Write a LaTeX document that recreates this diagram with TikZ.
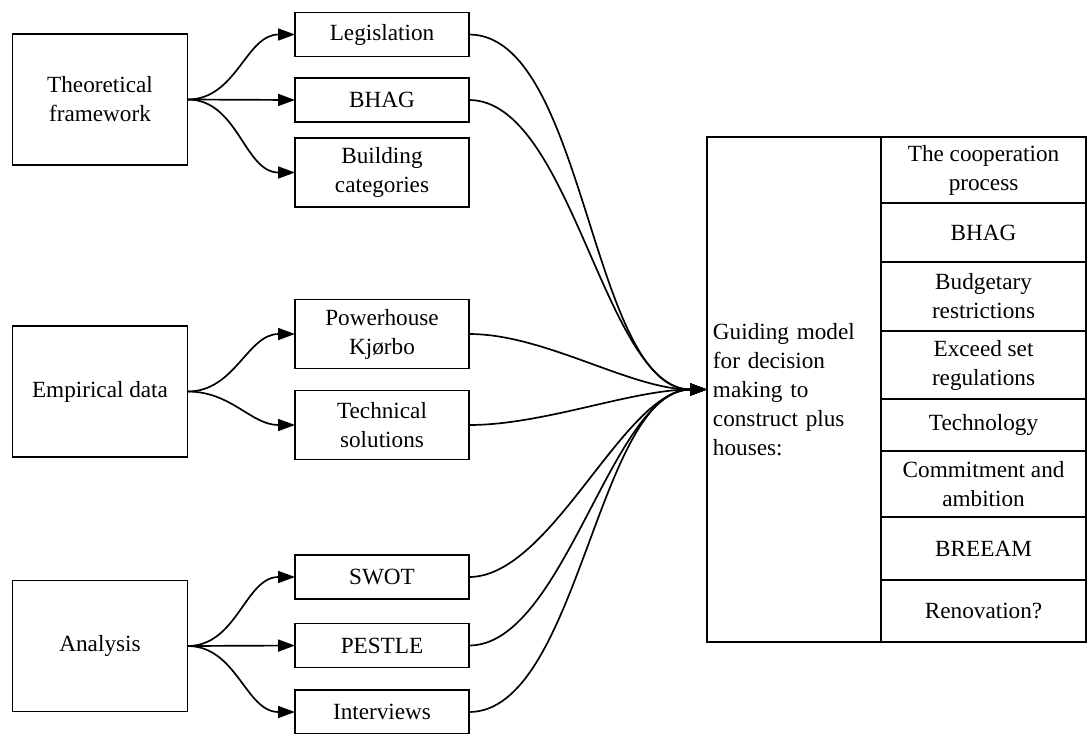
\documentclass[tikz,border=0pt]{standalone}
\usepackage{fontspec}
\setmainfont{Liberation Serif}
\usetikzlibrary{arrows.meta,positioning}

\begin{document}
\begin{tikzpicture}[
  x=0.025cm, y=-0.025cm,
  font=\fontsize{16.5pt}{20.6pt}\selectfont,
  box/.style={rectangle, draw=black, line width=1.3pt, outer sep=0pt,
              inner sep=2pt, align=center, minimum width=4.35cm},
  srcbox/.style={box, minimum width=4.375cm, minimum height=3.275cm},
  onebox/.style={box, minimum height=1.1cm},
  twobox/.style={box, minimum height=1.725cm},
  guidebox/.style={box, minimum height=12.625cm, text width=4.05cm,
                   align=left, inner xsep=0.15cm},
  rowbox/.style={box, minimum width=5.125cm},
  fwd/.style={-{Triangle[length=12pt,width=8.5pt]}, line width=1.2pt}
]
  \useasboundingbox (0,0) rectangle (1087,733);

  % sources
  \node[srcbox] (theo) at (100,99.5)  {Theoretical\\framework};
  \node[srcbox] (emp)  at (100,391.5) {Empirical data};
  \node[srcbox] (ana)  at (100,646)   {Analysis};

  % topics
  \node[onebox] (leg)  at (382,34.5)  {Legislation};
  \node[onebox] (bhag) at (382,100)   {BHAG};
  \node[twobox] (bcat) at (382,172.5) {Building\\categories};
  \node[twobox] (pwr)  at (382,334)   {Powerhouse\\Kjørbo};
  \node[twobox] (tech) at (382,425)   {Technical\\solutions};
  \node[onebox] (swot) at (382,577)   {SWOT};
  \node[onebox] (pest) at (382,645.5) {PESTLE};
  \node[onebox] (intv) at (382,712)   {Interviews};

  % guiding model
  \node[guidebox] (guide) at (794,389.5)
    {Guiding model\\for decision\\making to\\construct plus\\houses:};
  \node[rowbox, minimum height=1.65cm, anchor=north west] (r1) at (guide.north east) {The cooperation\\process};
  \node[rowbox, minimum height=1.475cm, below=0pt of r1] (r2) {BHAG};
  \node[rowbox, minimum height=1.725cm, below=0pt of r2] (r3) {Budgetary\\restrictions};
  \node[rowbox, minimum height=1.7cm,   below=0pt of r3] (r4) {Exceed set\\regulations};
  \node[rowbox, minimum height=1.3cm,   below=0pt of r4] (r5) {Technology};
  \node[rowbox, minimum height=1.65cm,  below=0pt of r5] (r6) {Commitment and\\ambition};
  \node[rowbox, minimum height=1.575cm, below=0pt of r6] (r7) {BREEAM};
  \node[rowbox, minimum height=1.55cm,  below=0pt of r7] (r8) {Renovation?};

  % fan out
  \draw[fwd] (theo.east) to[out=0,in=180] (leg.west);
  \draw[fwd] (theo.east) -- (bhag.west);
  \draw[fwd] (theo.east) to[out=0,in=180] (bcat.west);
  \draw[fwd] (emp.east)  to[out=0,in=180] (pwr.west);
  \draw[fwd] (emp.east)  to[out=0,in=180] (tech.west);
  \draw[fwd] (ana.east)  to[out=0,in=180] (swot.west);
  \draw[fwd] (ana.east)  -- (pest.west);
  \draw[fwd] (ana.east)  to[out=0,in=180] (intv.west);

  % into the model
  \draw[fwd] (leg.east)  to[out=0,in=180,looseness=0.7] (guide.west);
  \draw[fwd] (bhag.east) to[out=0,in=180,looseness=0.7] (guide.west);
  \draw[fwd] (pwr.east)  to[out=0,in=180,looseness=0.8] (guide.west);
  \draw[fwd] (tech.east) to[out=0,in=180,looseness=0.8] (guide.west);
  \draw[fwd] (swot.east) to[out=0,in=180,looseness=0.7] (guide.west);
  \draw[fwd] (pest.east) to[out=0,in=180,looseness=0.7] (guide.west);
  \draw[fwd] (intv.east) to[out=0,in=180,looseness=0.7] (guide.west);
\end{tikzpicture}
\end{document}
